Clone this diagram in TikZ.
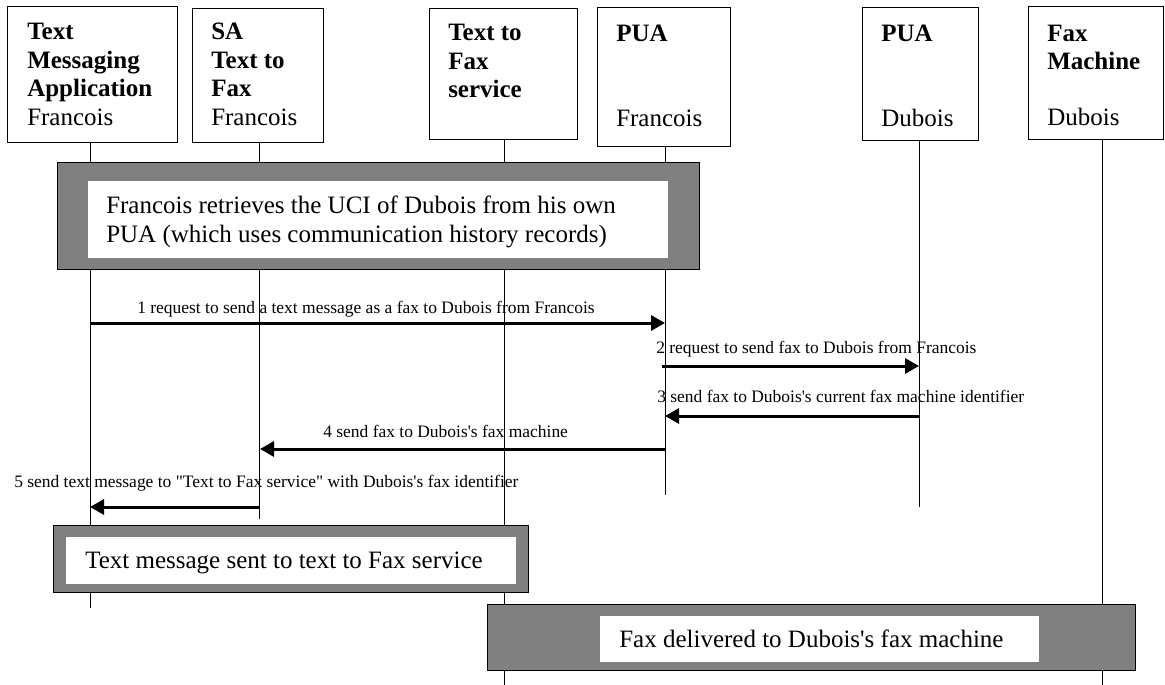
\documentclass[tikz,border=0pt]{standalone}
\usepackage{fontspec}
\setmainfont{Liberation Serif}
\usetikzlibrary{arrows.meta}
\definecolor{grayfill}{RGB}{128,128,128}
\begin{document}
\begin{tikzpicture}[x=0.75pt,y=-0.75pt,
  hbox/.style={draw,line width=1pt,anchor=north west,inner sep=0pt},
  ttl/.style={anchor=base west,align=left,inner sep=0pt,font=\fontsize{18.75}{21.4}\selectfont\bfseries},
  own/.style={anchor=base west,inner sep=0pt,font=\fontsize{18.75}{21.4}\selectfont},
  life/.style={line width=0.75pt},
  outerbox/.style={draw,line width=1pt,fill=grayfill,anchor=north west,inner sep=0pt},
  innerbox/.style={fill=white,anchor=north west,inner sep=0pt},
  big/.style={anchor=base west,align=left,inner sep=0pt,font=\fontsize{18.75}{21.75}\selectfont},
  msg/.style={line width=2.25pt,-{Triangle[length=10.5pt,width=11.25pt]}},
  lbl/.style={anchor=base west,inner sep=0pt,font=\fontsize{13.1}{15}\selectfont}
]
\useasboundingbox (0,0) rectangle (1165,685);

% header boxes
\node[hbox,minimum width=127.5pt,minimum height=102pt] (b1) at (7,6) {};
\node[hbox,minimum width=98.25pt,minimum height=100.5pt] (b2) at (192,8) {};
\node[hbox,minimum width=111pt,minimum height=98.25pt] (b3) at (429,8) {};
\node[hbox,minimum width=99.75pt,minimum height=104.25pt] (b4) at (597,7) {};
\node[hbox,minimum width=87pt,minimum height=99.75pt] (b5) at (862,7) {};
\node[hbox,minimum width=101.25pt,minimum height=99.75pt] (b6) at (1028,6) {};

% titles (base anchor = baseline of last line)
\node[ttl] (t1) at (27,97) {Text\\Messaging\\Application};
\node[own] (o1) at (27,126) {Francois};
\node[ttl] (t2) at (211,97) {SA\\Text to\\Fax};
\node[own] (o2) at (211,126) {Francois};
\node[ttl] (t3) at (448,98) {Text to\\Fax\\service};
\node[ttl] (t4) at (616,42) {PUA};
\node[own] (o4) at (616,127) {Francois};
\node[ttl] (t5) at (881,42) {PUA};
\node[own] (o5) at (881,127) {Dubois};
\node[ttl] (t6) at (1047,70) {Fax\\Machine};
\node[own] (o6) at (1047,126) {Dubois};

% lifeline ends
\coordinate (e1) at (90,608);
\coordinate (e2) at (259,519);
\coordinate (e3) at (504,685);
\coordinate (e4) at (665,495);
\coordinate (e5) at (919,507);
\coordinate (e6) at (1102,685);
\draw[life] (b1.south -| e1) -- (e1);
\draw[life] (b2.south -| e2) -- (e2);
\draw[life] (b3.south -| e3) -- (e3);
\draw[life] (b4.south -| e4) -- (e4);
\draw[life] (b5.south -| e5) -- (e5);
\draw[life] (b6.south -| e6) -- (e6);

% gray boxes
\node[outerbox,minimum width=481.5pt,minimum height=80.25pt] (g1) at (57,162) {};
\node[innerbox,minimum width=435pt,minimum height=57.75pt] (w1) at (88,181) {};
\node[big] (x1) at (106,242) {Francois retrieves the UCI of Dubois from his own\\PUA (which uses communication history records)};

\node[outerbox,minimum width=356.25pt,minimum height=50.25pt] (g2) at (53,525) {};
\node[innerbox,minimum width=337.5pt,minimum height=35.25pt] (w2) at (66,537) {};
\node[big] (x2) at (85,568) {Text message sent to text to Fax service};

\node[outerbox,minimum width=486pt,minimum height=49.5pt] (g3) at (487,604) {};
\node[innerbox,minimum width=329.25pt,minimum height=34.5pt] (w3) at (600,616) {};
\node[big] (x3) at (619,647) {Fax delivered to Dubois\textquotesingle s fax machine};

% messages
\coordinate (p1s) at (90,323);  \coordinate (p1e) at (665,323);
\coordinate (p2s) at (662,366); \coordinate (p2e) at (919,366);
\coordinate (p3s) at (919,416); \coordinate (p3e) at (665,416);
\coordinate (p4s) at (665,449); \coordinate (p4e) at (260,449);
\coordinate (p5s) at (260,507); \coordinate (p5e) at (90,507);
\draw[msg] (p1s) -- (p1e);
\draw[msg] (p2s) -- (p2e);
\draw[msg] (p3s) -- (p3e);
\draw[msg] (p4s) -- (p4e);
\draw[msg] (p5s) -- (p5e);

\node[lbl] (l1) at (137,313) {1 request to send a text message as a fax to Dubois from Francois};
\node[lbl] (l2) at (656,353) {2 request to send fax to Dubois from Francois};
\node[lbl] (l3) at (657,402) {3 send fax to Dubois\textquotesingle s current fax machine identifier};
\node[lbl] (l4) at (323,437) {4 send fax to Dubois\textquotesingle s fax machine};
\node[lbl] (l5) at (14,487) {5 send text message to \textquotedbl Text to Fax service\textquotedbl{} with Dubois\textquotesingle s fax identifier};
\end{tikzpicture}
\end{document}
